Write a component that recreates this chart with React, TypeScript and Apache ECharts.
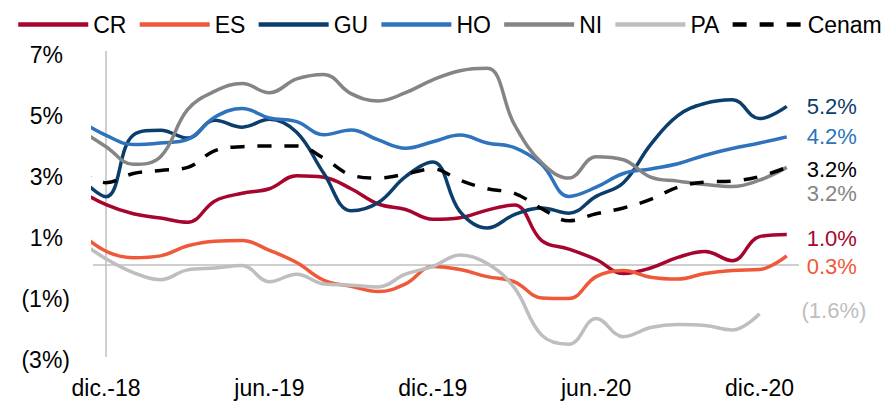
import React, { useEffect, useRef } from "react";
import * as echarts from "echarts";

// Monthly points, nov.-18 (clipped by the axis) to ene.-21
const months = [
  "nov.-18", "dic.-18",
  "ene.-19", "feb.-19", "mar.-19", "abr.-19", "may.-19", "jun.-19",
  "jul.-19", "ago.-19", "sep.-19", "oct.-19", "nov.-19", "dic.-19",
  "ene.-20", "feb.-20", "mar.-20", "abr.-20", "may.-20", "jun.-20",
  "jul.-20", "ago.-20", "sep.-20", "oct.-20", "nov.-20", "dic.-20",
  "ene.-21",
];
const tickLabels = ["dic.-18", "jun.-19", "dic.-19", "jun.-20", "dic.-20"];
const yTicks = [-3, -1, 1, 3, 5, 7];

const CR = [2.45, 1.98, 1.68, 1.54, 1.4, 2.1, 2.35, 2.5, 2.93, 2.88, 2.5, 2.0, 1.82, 1.5, 1.55, 1.8, 1.97, 0.8, 0.52, 0.18, -0.28, -0.1, 0.25, 0.44, 0.14, 0.93, 1.0];
const ES = [1.1, 0.45, 0.24, 0.3, 0.63, 0.78, 0.8, 0.48, 0.08, -0.5, -0.7, -0.87, -0.62, -0.05, -0.15, -0.38, -0.55, -1.08, -1.1, -0.38, -0.18, -0.4, -0.46, -0.28, -0.18, -0.15, 0.3];
const GU = [2.9, 2.24, 4.26, 4.42, 4.16, 4.75, 4.52, 4.78, 4.35, 3.0, 1.78, 2.05, 2.9, 3.38, 1.75, 1.21, 1.65, 1.87, 1.7, 2.25, 2.7, 3.95, 4.9, 5.3, 5.42, 4.8, 5.2];
const HO = [4.75, 4.25, 3.95, 4.0, 4.12, 4.85, 5.13, 4.82, 4.7, 4.27, 4.43, 4.1, 3.83, 4.04, 4.26, 4.0, 3.85, 3.3, 2.25, 2.55, 3.0, 3.15, 3.32, 3.6, 3.82, 4.0, 4.2];
const NI = [4.45, 3.88, 3.3, 3.55, 5.1, 5.7, 5.95, 5.65, 6.1, 6.25, 5.62, 5.38, 5.65, 6.07, 6.37, 6.45, 4.6, 3.35, 2.85, 3.55, 3.45, 2.88, 2.75, 2.64, 2.57, 2.78, 3.2];
const PA = [0.8, 0.2, -0.25, -0.48, -0.16, -0.1, -0.02, -0.55, -0.3, -0.62, -0.66, -0.72, -0.3, -0.05, 0.33, 0.05, -0.75, -2.3, -2.6, -1.75, -2.35, -2.05, -1.95, -1.98, -2.13, -1.6];
const Cenam = [3.1, 2.7, 3.0, 3.1, 3.2, 3.75, 3.88, 3.9, 3.9, 3.5, 2.95, 2.85, 2.98, 3.15, 2.78, 2.5, 2.35, 1.85, 1.45, 1.68, 1.87, 2.15, 2.55, 2.72, 2.75, 2.9, 3.2];

const FONT = "'Liberation Sans', Arial, Helvetica, sans-serif";

// x value = months since dic.-18
const pairs = (vals: number[]) => vals.map((v, i) => [i - 1, v]);

const fmtEnd = (p: any) => {
  const v = p.value[1] as number;
  return v < 0 ? `(${(-v).toFixed(1)}%)` : `${v.toFixed(1)}%`;
};

export default function App() {
  const ref = useRef<HTMLDivElement>(null);
  useEffect(() => {
    if (!ref.current) return;
    const chart = echarts.init(ref.current, undefined, { renderer: "svg" });

    const defs = [
      { name: "CR", data: CR, color: "#A6062D", dy: 4, dist: 20 },
      { name: "ES", data: ES, color: "#F0583A", dy: 11, dist: 20 },
      { name: "GU", data: GU, color: "#0B3E6C", dy: 0, dist: 20 },
      { name: "HO", data: HO, color: "#2E73BC", dy: 0, dist: 20 },
      { name: "NI", data: NI, color: "#858585", dy: 26, dist: 20 },
      { name: "PA", data: PA, color: "#BEBEBE", dy: -3, dist: 42 },
      { name: "Cenam", data: Cenam, color: "#000000", dy: 2, dist: 20, dashed: true },
    ];

    const series: any[] = defs.map((d, idx) => ({
      name: d.name,
      type: "line",
      data: pairs(d.data),
      smooth: 0.4,
      symbol: "none",
      clip: true,
      z: 2 + idx,
      lineStyle: {
        color: d.color,
        width: 3.5,
        type: d.dashed ? [14, 13] : "solid",
        cap: "butt",
      },
      itemStyle: { color: d.color },
      endLabel: {
        show: true,
        formatter: fmtEnd,
        color: d.color,
        fontSize: 22,
        fontFamily: FONT,
        distance: d.dist,
        offset: [0, d.dy],
      },
      ...(idx === 0
        ? {
            markLine: {
              silent: true,
              symbol: "none",
              label: { show: false },
              lineStyle: { color: "#BFBFBF", width: 1.5, type: "solid" },
              data: [{ yAxis: 0 }],
              z: 1,
            },
          }
        : {}),
    }));

    chart.setOption({
      animation: false,
      backgroundColor: "#ffffff",
      textStyle: { fontFamily: FONT },
      legend: {
        left: 16,
        top: 13,
        padding: 0,
        width: 869,
        itemWidth: 70,
        itemHeight: 14,
        itemGap: 11,
        itemStyle: { opacity: 0 },
        lineStyle: { width: 4.5 },
        textStyle: { fontSize: 23, color: "#000", fontFamily: FONT },
        data: defs.map((d) => d.name),
      },
      grid: { left: 93, right: 86, top: 51.5, bottom: 48.5, containLabel: false },
      xAxis: {
        type: "value",
        min: -0.48,
        max: 25.45,
        splitLine: { show: false },
        axisTick: { show: false },
        axisLine: { show: false, onZero: false },
        axisLabel: {
          customValues: tickLabels.map((l) => months.indexOf(l) - 1),
          formatter: (v: number) => months[Math.round(v) + 1],
          fontSize: 23,
          color: "#000",
          fontFamily: FONT,
          margin: 20,
        },
      },
      yAxis: {
        type: "value",
        min: -3,
        max: 7,
        splitLine: { show: false },
        axisTick: { show: false },
        axisLine: { show: true, lineStyle: { color: "#BFBFBF", width: 1.5 } },
        axisLabel: {
          customValues: yTicks,
          margin: 23,
          color: "#000",
          fontSize: 23,
          fontFamily: FONT,
          padding: [6, 0, 0, 0],
          formatter: (v: number) => (v < 0 ? `(${-v}%)` : `{p|${v}%}`),
          rich: {
            p: { fontSize: 23, color: "#000", fontFamily: FONT, padding: [0, 7, 0, 0] },
          },
        },
      },
      series,
    });

    return () => chart.dispose();
  }, []);

  return (
    <div
      ref={ref}
      style={{ position: "fixed", left: 0, top: 0, width: 885, height: 405, background: "#fff" }}
    />
  );
}
